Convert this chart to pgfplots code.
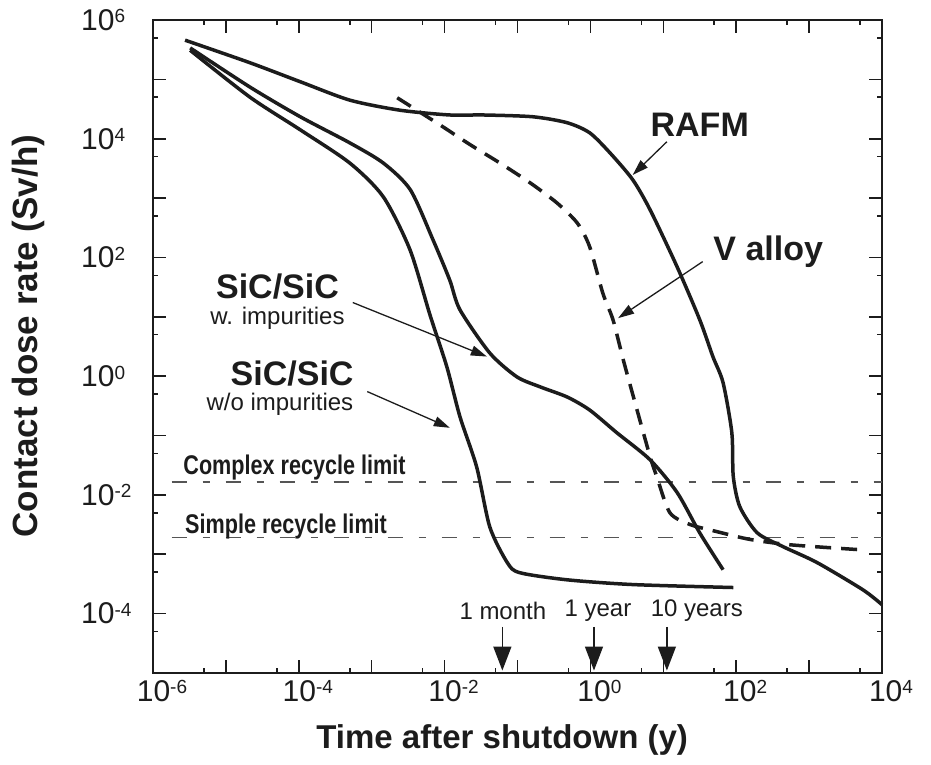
\documentclass[border=0pt]{standalone}
\usepackage{fontspec}
\setmainfont{Liberation Sans}
\usepackage{pgfplots}
\pgfplotsset{compat=1.18}
\usetikzlibrary{arrows.meta}
\newcommand{\tl}[1]{10\raisebox{7.4pt}{\fontsize{19}{19}\selectfont #1}}
\definecolor{ink}{HTML}{1C1C1C}
\definecolor{lim}{HTML}{555555}
\begin{document}
\begin{tikzpicture}
\path[use as bounding box] (0,0) rectangle (931pt,765pt);
\begin{loglogaxis}[
  at={(153pt,92pt)}, anchor=south west,
  scale only axis, width=729pt, height=653pt,
  xmin=1e-6, xmax=1e4, ymin=1e-5, ymax=1e6,
  clip=false,
  axis line style={line width=2pt, ink},
  tick style={line width=1.6pt, ink},
  major tick length=13pt, minor tick length=5pt,
  tick align=inside, tick pos=both,
  xtick={1e-6,1e-5,1e-4,1e-3,1e-2,1e-1,1,10,100,1000,1e4},
  xticklabels={{\tl{-6}},{},{\tl{-4}},{},{\tl{-2}},{},{\tl{0}},{},{\tl{2}},{},{\tl{4}}},
  minor xtick={5e-6,5e-5,5e-4,5e-3,5e-2,5e-1,5,50,500,5000},
  ytick={1e-5,1e-4,1e-3,1e-2,1e-1,1,10,100,1000,1e4,1e5,1e6},
  yticklabels={{},{\tl{-4}},{},{\tl{-2}},{},{\tl{0}},{},{\tl{2}},{},{\tl{4}},{},{\tl{6}}},
  minor ytick={5e-5,5e-4,5e-3,5e-2,5e-1,5,50,500,5000,5e4,5e5},
  ticklabel style={font=\fontsize{30}{30}\selectfont, text=ink},
  xticklabel style={inner sep=0pt, anchor=north, yshift=-7pt, xshift=9pt},
  yticklabel style={inner sep=0pt, anchor=west, xshift=-72pt},
  xlabel={Time after shutdown (y)},
  ylabel={Contact dose rate (Sv/h)},
  xlabel style={font=\bfseries\fontsize{33}{33}\selectfont, text=ink, at={(axis description cs:0.479,-0.1026)}, anchor=center},
  ylabel style={font=\bfseries\fontsize{35}{35}\selectfont, text=ink, at={(axis description cs:-0.1715,0.516)}, anchor=center},
]
% recycle limits
\addplot[lim, line width=1.4pt, dash pattern=on 15pt off 16pt on 7pt off 16pt] coordinates {(1.8e-6,0.0166) (1e4,0.0166)};
\addplot[lim, line width=1.4pt, dash pattern=on 15pt off 16pt on 7pt off 16pt] coordinates {(1.8e-6,1.9e-3) (1e4,1.9e-3)};
% RAFM
\addplot[ink, line width=3.5pt, smooth, tension=0.45] coordinates {
(2.754e-6,4.571e5) (2.138e-5,1.905e5) (1.047e-4,9.120e4) (5.012e-4,4.467e4)
(2.455e-3,3.020e4) (1.175e-2,2.512e4) (3.388e-2,2.512e4) (0.1622,2.344e4)
(0.4786,1.862e4) (0.977,1.259e4) (1.862,5754) (3.802,2042) (6.607,631)
(15.49,69.2) (31.62,8.91) (47.86,2.138) (66.07,0.776) (87.1,0.1122)
(91.2,0.0204) (112.2,6.31e-3) (195,2.29e-3) (436.5,1.349e-3) (1288,7.24e-4)
(5495,2.512e-4) (1e4,1.413e-4)};
% SiC/SiC with impurities
\addplot[ink, line width=3.5pt, smooth, tension=0.45] coordinates {
(3.236e-6,3.388e5) (2.138e-5,7.413e4) (1.047e-4,2.344e4) (5.012e-4,8511)
(1.445e-3,3890) (3.388e-3,1380) (6.918e-3,199.5) (1.175e-2,41.7)
(1.622e-2,13.18) (4.169e-2,2.455) (9.772e-2,0.977) (0.2042,0.661)
(0.4786,0.4467) (0.977,0.2692) (2.291,0.1122) (6.607,0.0389)
(15.49,0.01096) (31.62,2.291e-3) (66.07,5.495e-4)};
% SiC/SiC without impurities
\addplot[ink, line width=3.5pt, smooth, tension=0.45] coordinates {
(3.236e-6,3.090e5) (2.138e-5,5.012e4) (1.047e-4,1.413e4) (5.012e-4,3890)
(1.445e-3,1047) (3.350e-3,134.9) (6.310e-3,10.72) (1.072e-2,1.445)
(1.622e-2,0.2089) (2.754e-2,0.02951) (4.169e-2,2.884e-3) (7.244e-2,7.244e-4)
(0.1072,4.898e-4) (0.4786,3.715e-4) (3.802,3.090e-4) (91.2,2.754e-4)};
% V alloy
\addplot[ink, line width=3.5pt, dash pattern=on 16pt off 10pt, smooth, tension=0.45] coordinates {
(2.239e-3,4.898e4) (8.710e-3,1.698e4) (2.239e-2,7943) (5.754e-2,3890)
(0.1479,1820) (0.3467,831.8) (0.6607,380.2) (0.977,151.4) (1.479,25.12)
(2.042,8.913) (2.818,1.905) (4.365,0.2692) (6.607,0.04365) (8.128,0.02042)
(12.30,5.012e-3) (23.44,3.162e-3) (54.95,2.399e-3) (154.9,1.778e-3)
(549.5,1.445e-3) (4571,1.202e-3)};
% annotations
\node[font=\bfseries\fontsize{34}{34}\selectfont, text=ink, inner sep=0pt] at (axis cs:31.6,1.7e4) {RAFM};
\node[font=\bfseries\fontsize{34}{34}\selectfont, text=ink, inner sep=0pt] at (axis cs:275,123) {V alloy};
\node[font=\bfseries\fontsize{34}{34}\selectfont, text=ink, inner sep=0pt] at (axis cs:5.1e-5,32) {SiC/SiC};
\node[font=\fontsize{24}{24}\selectfont, text=ink, inner sep=0pt] at (axis cs:5.1e-5,9.6) {w. impurities};
\node[font=\bfseries\fontsize{34}{34}\selectfont, text=ink, inner sep=0pt] at (axis cs:8.1e-5,1.12) {SiC/SiC};
\node[font=\fontsize{24}{24}\selectfont, text=ink, inner sep=0pt] at (axis cs:5.5e-5,0.34) {w/o impurities};
\node[font=\bfseries\fontsize{27}{27}\selectfont, text=ink, anchor=west, inner sep=0pt] at (axis cs:2.6e-6,0.029) {\scalebox{0.8}[1]{Complex recycle limit}};
\node[font=\bfseries\fontsize{27}{27}\selectfont, text=ink, anchor=west, inner sep=0pt] at (axis cs:2.75e-6,2.9e-3) {\scalebox{0.8}[1]{Simple recycle limit}};
\node[font=\fontsize{24}{24}\selectfont, text=ink, inner sep=0pt] at (axis cs:0.063,1.12e-4) {1 month};
\node[font=\fontsize{24}{24}\selectfont, text=ink, inner sep=0pt] at (axis cs:1.27,1.12e-4) {1 year};
\node[font=\fontsize{24}{24}\selectfont, text=ink, inner sep=0pt] at (axis cs:28.8,1.12e-4) {10 years};
\draw[ink, line width=1.3pt, -{Triangle[length=16pt,width=10pt]}] (axis cs:11.2,8.9e3) -- (axis cs:3.8,2.45e3);
\draw[ink, line width=1.3pt, -{Triangle[length=16pt,width=10pt]}] (axis cs:34.7,85) -- (axis cs:2.4,9.5);
\draw[ink, line width=1.3pt, -{Triangle[length=16pt,width=10pt]}] (axis cs:5.5e-4,17.4) -- (axis cs:0.038,2.14);
\draw[ink, line width=1.3pt, -{Triangle[length=16pt,width=10pt]}] (axis cs:8.7e-4,0.55) -- (axis cs:0.0118,0.135);
\draw[ink, line width=1.5pt, -{Triangle[length=24pt,width=18pt]}] (axis cs:0.062,6e-5) -- (axis cs:0.062,1.1e-5);
\draw[ink, line width=1.5pt, -{Triangle[length=24pt,width=18pt]}] (axis cs:1.12,6e-5) -- (axis cs:1.12,1.1e-5);
\draw[ink, line width=1.5pt, -{Triangle[length=24pt,width=18pt]}] (axis cs:11.2,6e-5) -- (axis cs:11.2,1.1e-5);
\end{loglogaxis}
\end{tikzpicture}
\end{document}
